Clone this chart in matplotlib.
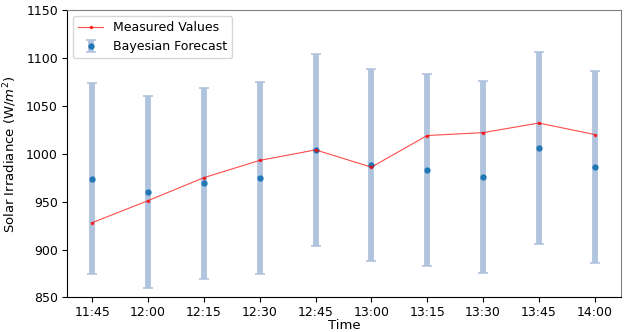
import matplotlib
matplotlib.use("Agg")
import matplotlib.pyplot as plt
import numpy as np

times = ["11:45", "12:00", "12:15", "12:30", "12:45", "13:00", "13:15", "13:30", "13:45", "14:00"]
measured = [928, 951, 975, 993, 1004, 986, 1019, 1022, 1032, 1020]
forecast_mean = [974, 960, 969, 975, 1004, 988, 983, 976, 1006, 986]
forecast_err = [100, 100, 100, 100, 100, 100, 100, 100, 100, 100]

x = np.arange(len(times))

fig = plt.figure(figsize=(6.26, 3.32), dpi=100)
ax = fig.add_axes([0.107, 0.104, 0.885, 0.866])

ax.plot(x, measured, color="red", lw=0.8, alpha=0.7, marker=".", ms=3,
        mfc="red", mec="red", label="Measured Values")
_, caps, _ = ax.errorbar(x, forecast_mean, yerr=forecast_err, fmt="o", ms=3.5,
                         color="#1f77b4", ecolor="lightsteelblue", elinewidth=4.2,
                         capsize=3.3, capthick=1.2, label="Bayesian Forecast",
                         zorder=1)
for c in caps:
    c.set_color("#c9d6e8")

ax.set_xlim(-0.45, 9.47)
ax.set_ylim(850, 1150)
ax.set_xticks(x)
ax.set_xticklabels(times)
ax.set_yticks([850, 900, 950, 1000, 1050, 1100, 1150])
ax.set_xlabel("Time", fontsize=9.5, labelpad=0)
ax.set_ylabel("Solar Irradiance (W/$m^2$)", fontsize=9.5, labelpad=5)
ax.tick_params(labelsize=9, pad=3)
for s in ("top", "right"):
    ax.spines[s].set_color("#808080")
ax.legend(loc="upper left", fontsize=9)

fig.savefig("out.png", dpi=100)
